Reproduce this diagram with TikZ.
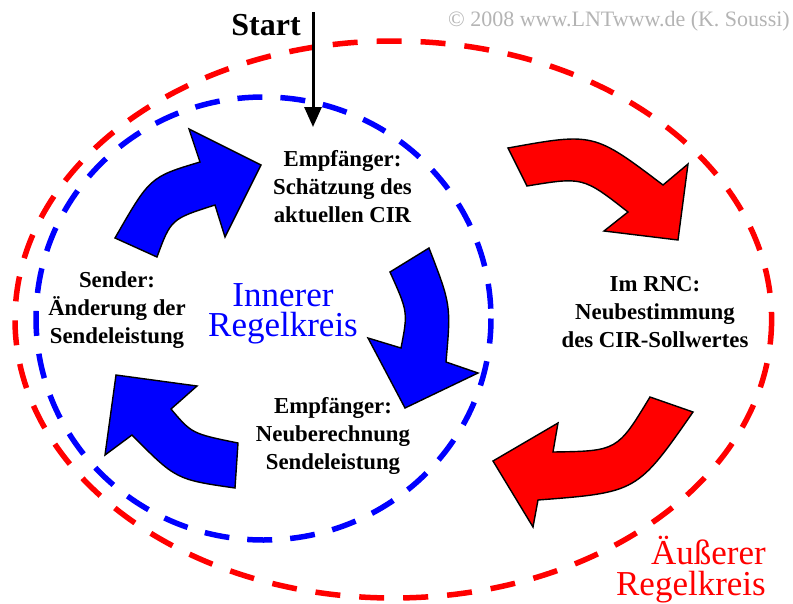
\documentclass[tikz,border=0pt]{standalone}
\usepackage{fontspec}
\setmainfont{Liberation Serif}
\usetikzlibrary{arrows.meta}
\definecolor{pureblue}{RGB}{0,0,255}
\definecolor{purered}{RGB}{255,0,0}
\definecolor{copygray}{RGB}{180,180,180}
\begin{document}
\begin{tikzpicture}[x=1pt,y=-1pt,
  lbl/.style={font=\fontsize{22.8}{28}\selectfont\bfseries, align=center, anchor=base, inner sep=0pt},
  loop/.style={font=\fontsize{35}{30.5}\selectfont, inner sep=0pt, anchor=base},
  ringblue/.style={draw=pureblue, line width=5.5pt, dash pattern=on 25pt off 18pt},
  ringred/.style={draw=purered, line width=5.5pt, dash pattern=on 25pt off 19pt},
  bluearrow/.style={fill=pureblue, draw=black, line width=1.4pt, line join=miter},
  redarrow/.style={fill=purered, draw=black, line width=1.4pt, line join=miter},
  startarrow/.style={draw=black, line width=3pt, -{Triangle[length=20pt,width=17pt]}}
]
\useasboundingbox (0,0) rectangle (793,603);

% dashed loops
\draw[ringred] (393.3,319.5) ellipse [x radius=378.3, y radius=278.5];
\draw[ringblue] (263.5,318.5) ellipse [x radius=227.5, y radius=221.5];

% blue arrows (inner loop)
\draw[bluearrow] (115,238) .. controls (150,177) .. (200,162) -- (189,129) -- (261,165) -- (225,237) -- (215,205) .. controls (171,219) .. (157,257) -- cycle;
\draw[bluearrow] (429,248) .. controls (451,305) .. (446,362) -- (478,373) -- (405,408) -- (368,338) -- (401,348) .. controls (408,312) .. (390,272) -- cycle;
\draw[bluearrow] (235,488) .. controls (176,479.5) .. (132,435) -- (105,455) -- (116,375) -- (197,386) -- (171,409) .. controls (191.8,433.6) .. (238,443) -- cycle;

% red arrows (outer loop)
\draw[redarrow] (508,148) .. controls (593.7,132.5) .. (663,185) -- (688,164) -- (678,240) -- (604,231) -- (628,212) .. controls (583,176.8) .. (527,186) -- cycle;
\draw[redarrow] (693,412) .. controls (637,492.4) .. (538,500) -- (533,527) -- (493,461) -- (558,423) -- (553,452) .. controls (617.3,451) .. (650,397) -- cycle;

% texts (base anchor = baseline of the last line)
\node[font=\fontsize{22}{26}\selectfont, text=copygray, anchor=base east, inner sep=0pt] (copy) at (790,26) {© 2008 www.LNTwww.de (K. Soussi)};
\node[font=\fontsize{32}{36}\selectfont\bfseries, anchor=base, inner sep=0pt] (start) at (266,35) {Start};
\node[lbl] (schaetz) at (342.5,222.7) {Empfänger:\\Schätzung des\\aktuellen CIR};
\node[lbl] (sender) at (117,343) {Sender:\\Änderung der\\Sendeleistung};
\node[lbl] (neuber) at (333,469) {Empfänger:\\Neuberechnung\\Sendeleistung};
\node[lbl] (rnc) at (655,347) {Im RNC:\\Neubestimmung\\des CIR-Sollwertes};
\node[loop, text=pureblue, align=center] (inner) at (283,336.7) {Innerer\\Regelkreis};
\node[loop, text=purered, align=right, anchor=base east] (outer) at (766,595) {Äußerer\\Regelkreis};

% start arrow
\coordinate (s0) at (313,12);
\coordinate (s1) at (313,127);
\draw[startarrow] (s0) -- (s1);
\end{tikzpicture}
\end{document}
